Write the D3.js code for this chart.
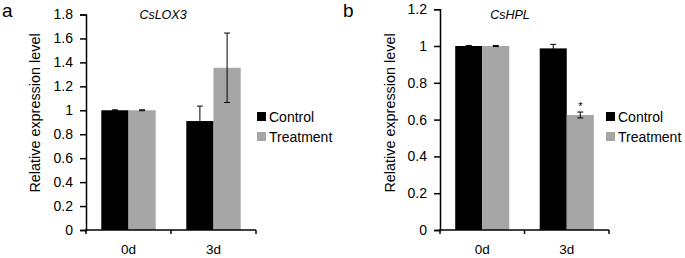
<!DOCTYPE html>
<html>
<head>
<meta charset="utf-8">
<script src="https://cdn.jsdelivr.net/npm/d3@7"></script>
<style>
  body { margin: 0; background: #fff; }
  text { font-family: "Liberation Sans", Arial, sans-serif; fill: #000; }
</style>
</head>
<body>
<div id="chart"></div>
<script>
// data
var days = ["0d", "3d"];
var series = ["Control", "Treatment"];
var lox3Control = [1.0, 0.91];
var lox3Treatment = [1.0, 1.355];
var lox3ControlErr = [0.004, 0.125];
var lox3TreatmentErr = [0.004, 0.29];
var hplControl = [1.0, 0.987];
var hplTreatment = [1.0, 0.625];
var hplControlErr = [0.003, 0.022];
var hplTreatmentErr = [0.003, 0.016];
var lox3Ticks = [0, 0.2, 0.4, 0.6, 0.8, 1, 1.2, 1.4, 1.6, 1.8];
var hplTicks = [0, 0.2, 0.4, 0.6, 0.8, 1, 1.2];
var colors = {"Control": "#000000", "Treatment": "#a6a6a6"};

var svg = d3.select("#chart").append("svg")
    .attr("width", 685)
    .attr("height", 258);

function panel(opt){
    var g = svg.append("g");
    var x = d3.scaleBand().domain(days).range([opt.left, opt.right]);
    var xs = d3.scaleBand().domain(series)
        .range([x.bandwidth() * 0.18, x.bandwidth() * 0.82]);
    var y = d3.scaleLinear().domain([0, opt.max]).range([230, opt.top]);

    var rows = [];
    days.forEach(function(d, i){
        rows.push({day: d, s: "Control", v: opt.control[i], e: opt.controlErr[i]});
        rows.push({day: d, s: "Treatment", v: opt.treatment[i], e: opt.treatmentErr[i]});
    });

    g.selectAll("rect.bar").data(rows).enter().append("rect")
        .attr("class", "bar")
        .attr("x", d => x(d.day) + xs(d.s))
        .attr("width", xs.bandwidth())
        .attr("y", d => y(d.v))
        .attr("height", d => y(0) - y(d.v))
        .attr("fill", d => colors[d.s]);

    // error bars
    var eb = g.selectAll("g.err").data(rows).enter().append("g")
        .attr("class", "err")
        .attr("stroke", "#000")
        .attr("stroke-width", 1);
    var cx = d => x(d.day) + xs(d.s) + xs.bandwidth() / 2;
    eb.append("line")
        .attr("x1", cx).attr("x2", cx)
        .attr("y1", d => y(d.v - d.e)).attr("y2", d => y(d.v + d.e));
    eb.append("line")
        .attr("x1", d => cx(d) - 3).attr("x2", d => cx(d) + 3)
        .attr("y1", d => y(d.v + d.e)).attr("y2", d => y(d.v + d.e));
    eb.append("line")
        .attr("x1", d => cx(d) - 3).attr("x2", d => cx(d) + 3)
        .attr("y1", d => y(d.v - d.e)).attr("y2", d => y(d.v - d.e));

    // y axis
    var yAxis = d3.axisLeft(y).tickValues(opt.ticks)
        .tickSize(6).tickPadding(7)
        .tickFormat(d => String(+d.toFixed(1)));
    var ya = g.append("g")
        .attr("transform", "translate(" + opt.left + ",0)")
        .call(yAxis);
    ya.select(".domain").attr("stroke-width", 1.5);
    ya.selectAll(".tick line").attr("stroke-width", 1.5);
    ya.selectAll("text").style("font-size", "14px");

    // x axis: ticks between categories
    g.append("line")
        .attr("x1", opt.left - 1).attr("x2", opt.right)
        .attr("y1", y(0)).attr("y2", y(0))
        .attr("stroke", "#000").attr("stroke-width", 1.5);
    var bounds = [x(days[0]), x(days[1]), x(days[1]) + x.bandwidth()];
    g.selectAll("line.xt").data(bounds).enter().append("line")
        .attr("class", "xt")
        .attr("x1", d => d).attr("x2", d => d)
        .attr("y1", y(0)).attr("y2", y(0) + 4)
        .attr("stroke", "#000").attr("stroke-width", 1.5);
    g.selectAll("text.xl").data(days).enter().append("text")
        .attr("class", "xl")
        .attr("x", d => x(d) + x.bandwidth() / 2)
        .attr("y", 254)
        .attr("text-anchor", "middle")
        .style("font-size", "13.5px")
        .text(d => d);

    // star for significance
    if (opt.star){
        var r = rows.filter(d => d.day == opt.star.day && d.s == opt.star.s)[0];
        g.append("text")
            .attr("x", cx(r))
            .attr("y", y(r.v + r.e) - 2)
            .attr("text-anchor", "middle")
            .style("font-size", "11px")
            .text("*");
    }

    // title
    g.append("text")
        .attr("x", opt.titleX).attr("y", 19)
        .attr("text-anchor", "middle")
        .style("font-size", "12.5px")
        .style("font-style", "italic")
        .text(opt.title);

    // panel letter
    g.append("text")
        .attr("x", opt.letterX).attr("y", 17)
        .style("font-size", "19px")
        .text(opt.letter);

    // y label
    g.append("text")
        .attr("transform", "translate(" + opt.labelX + ",113) rotate(-90)")
        .attr("text-anchor", "middle")
        .style("font-size", "14.4px")
        .text("Relative expression level");

    // legend
    var lg = g.selectAll("g.lg").data(series).enter().append("g")
        .attr("class", "lg")
        .attr("transform", (d, i) => "translate(" + opt.legendX + "," + (112 + i * 20) + ")");
    lg.append("rect").attr("width", 9).attr("height", 9)
        .attr("fill", d => colors[d]);
    lg.append("text").attr("x", 12).attr("y", 9.5)
        .style("font-size", "14px")
        .text(d => d);
}

panel({left: 86, right: 256, top: 14.5, max: 1.8, ticks: lox3Ticks,
       control: lox3Control, treatment: lox3Treatment,
       controlErr: lox3ControlErr, treatmentErr: lox3TreatmentErr,
       title: "CsLOX3", titleX: 163, letter: "a", letterX: 2, labelX: 40, legendX: 257});

panel({left: 440, right: 609, top: 9.2, max: 1.2, ticks: hplTicks,
       control: hplControl, treatment: hplTreatment,
       controlErr: hplControlErr, treatmentErr: hplTreatmentErr,
       title: "CsHPL", titleX: 510, letter: "b", letterX: 343, labelX: 395, legendX: 606,
       star: {day: "3d", s: "Treatment"}});
</script>
</body>
</html>
